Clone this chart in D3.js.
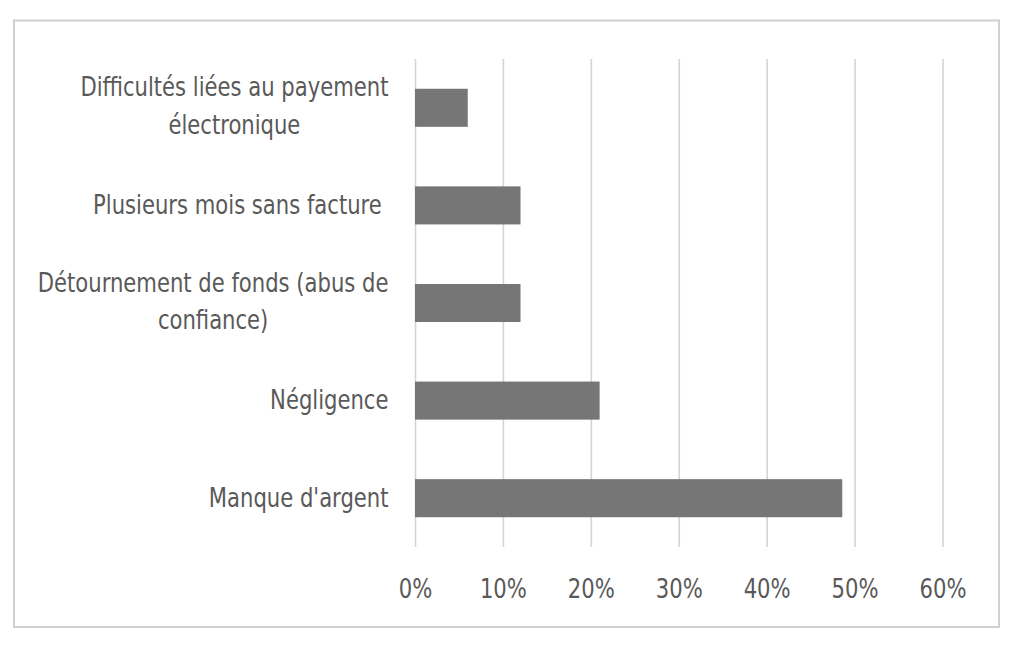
<!DOCTYPE html>
<html>
<head>
<meta charset="utf-8">
<script src="https://cdn.jsdelivr.net/npm/d3@7"></script>
<style>
  html, body { margin: 0; padding: 0; background: #fff; }
  svg { display: block; }
  text { font-family: "DejaVu Sans Condensed", "Liberation Sans Narrow", sans-serif; fill: #595959; white-space: pre; }
</style>
</head>
<body>
<svg id="chart" width="1024" height="659"></svg>
<script>
// Data (top to bottom as displayed)
const categories = [
  ["Difficultés liées au payement", "électronique"],
  ["Plusieurs mois sans facture "],
  ["Détournement de fonds (abus de", "confiance)"],
  ["Négligence"],
  ["Manque d'argent"]
];
const values = [0.06, 0.12, 0.12, 0.21, 0.486];
const tickValues = [0, 0.1, 0.2, 0.3, 0.4, 0.5, 0.6];

const svg = d3.select("#chart");
const plot = { left: 415, right: 942.5, top: 59, bottom: 547 };
const fontSize = 27;
const sx = 0.87; // horizontal condensation to mimic the narrow original font

// Outer frame
svg.append("rect")
  .attr("x", 14).attr("y", 20.5)
  .attr("width", 985).attr("height", 606.5)
  .attr("fill", "#fff")
  .attr("stroke", "#d0d0d0")
  .attr("stroke-width", 2);

const keys = categories.map(c => c.join(" "));
const x = d3.scaleLinear().domain([0, 0.6]).range([plot.left, plot.right]);
const y = d3.scaleBand().domain(keys).range([plot.top, plot.bottom])
  .paddingInner(0.61).paddingOuter(0.305);

// Gridlines + tick labels via axis
const xAxis = d3.axisBottom(x)
  .tickValues(tickValues)
  .tickFormat(d3.format(".0%"))
  .tickSize(-(plot.bottom - plot.top));

const gx = svg.append("g")
  .attr("transform", `translate(0,${plot.bottom})`)
  .call(xAxis);
gx.select(".domain").remove();
gx.selectAll(".tick line")
  .attr("stroke", "#d4d4d4")
  .attr("stroke-width", 1.6);
gx.selectAll(".tick text")
  .attr("y", 0)
  .attr("dy", 0)
  .attr("transform", `translate(0,51) scale(${sx},1)`)
  .attr("fill", "#595959")
  .style("font-size", fontSize + "px")
  .style("font-family", '"DejaVu Sans Condensed", sans-serif');

// Bars
svg.append("g").selectAll("rect")
  .data(values)
  .join("rect")
  .attr("x", x(0))
  .attr("y", (d, i) => y(keys[i]))
  .attr("width", d => x(d) - x(0))
  .attr("height", y.bandwidth())
  .attr("fill", "#767676");

// Category labels (right aligned block, lines centered to each other)
const labelRight = 388.5;
const lg = svg.append("g");
categories.forEach((lines, i) => {
  const cy = y(keys[i]) + y.bandwidth() / 2;
  const t = lg.append("text")
    .attr("text-anchor", "middle")
    .style("font-size", fontSize + "px");
  const baseOffsets = lines.length === 1 ? [8.5] : [-11.5, 26.5];
  const tspans = lines.map((s, j) =>
    t.append("tspan").attr("x", 0).attr("y", baseOffsets[j]).text(s));
  let maxW = 0;
  tspans.forEach(ts => { maxW = Math.max(maxW, ts.node().getComputedTextLength()); });
  t.attr("transform", `translate(${labelRight - maxW * sx / 2},${cy}) scale(${sx},1)`);
});
</script>
</body>
</html>
